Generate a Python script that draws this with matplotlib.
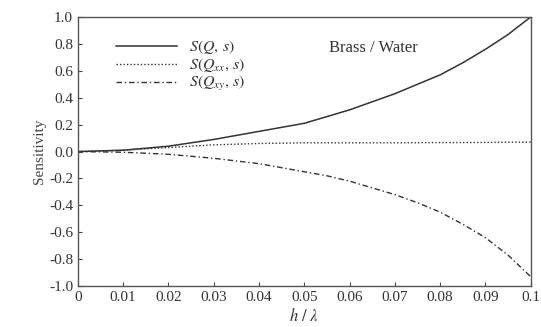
import matplotlib
matplotlib.use("Agg")
import matplotlib.pyplot as plt

plt.rcParams['font.family'] = ['Liberation Serif', 'DejaVu Serif']
plt.rcParams['mathtext.fontset'] = 'stix'

x = [0.0, 0.01, 0.02, 0.03, 0.04, 0.05, 0.055, 0.06, 0.065, 0.07, 0.075, 0.08, 0.085, 0.09, 0.095, 0.1]
s_q = [0.0, 0.01, 0.04, 0.09, 0.15, 0.21, 0.26, 0.31, 0.37, 0.43, 0.50, 0.57, 0.66, 0.76, 0.87, 1.0]
s_qxx = [0.0, 0.01, 0.03, 0.05, 0.06, 0.065, 0.065, 0.065, 0.065, 0.065, 0.066, 0.067, 0.067, 0.068, 0.069, 0.07]
s_qxy = [0.0, -0.005, -0.02, -0.05, -0.09, -0.15, -0.18, -0.22, -0.27, -0.32, -0.38, -0.45, -0.54, -0.64, -0.77, -0.93]

xticks = [0, 0.01, 0.02, 0.03, 0.04, 0.05, 0.06, 0.07, 0.08, 0.09, 0.1]
xticklabels = ['0', '0.01', '0.02', '0.03', '0.04', '0.05', '0.06', '0.07', '0.08', '0.09', '0.1']
yticks = [1.0, 0.8, 0.6, 0.4, 0.2, 0.0, -0.2, -0.4, -0.6, -0.8, -1.0]
yticklabels = ['1.0', '0.8', '0.6', '0.4', '0.2', '0.0', '-0.2', '-0.4', '-0.6', '-0.8', '-1.0']

fig = plt.figure(figsize=(5.41, 3.27), dpi=100)
ax = fig.add_axes([0.144, 0.125, 0.837, 0.823])
c = '#333333'
ax.plot(x, s_q, color=c, lw=1.1, ls='-', label=r'$S(Q,\, s)$')
ax.plot(x, s_qxx, color=c, lw=1.0, ls=(0, (1, 1.5)), label=r'$S(Q_{xx},\, s)$')
ax.plot(x, s_qxy, color=c, lw=1.0, ls=(0, (4, 2, 1, 2)), label=r'$S(Q_{xy},\, s)$')

ax.set_xlim(0, 0.1)
ax.set_ylim(-1.0, 1.0)
ax.set_xticks(xticks)
ax.set_xticklabels(xticklabels)
ax.set_yticks(yticks)
ax.set_yticklabels(yticklabels)
ax.tick_params(direction='in', length=3, labelsize=11, colors='#444444', labelcolor='#333333')
for sp in ax.spines.values():
    sp.set_color('#555555')
    sp.set_linewidth(1.0)

ax.set_xlabel(r'$h\ /\ \lambda$', fontsize=12, color='#333333', labelpad=3)
ax.set_ylabel('Sensitivity', fontsize=11, color='#444444', labelpad=2)

ax.text(0.555, 0.885, 'Brass / Water', transform=ax.transAxes, fontsize=12,
        color='#333333', va='center', ha='left')

leg = ax.legend(loc='upper left', bbox_to_anchor=(0.07, 0.945), frameon=False,
                fontsize=11.5, handlelength=3.8, handletextpad=0.8,
                labelspacing=0.0, borderaxespad=0)
for t in leg.get_texts():
    t.set_color('#333333')

fig.savefig('out.png', dpi=100)
